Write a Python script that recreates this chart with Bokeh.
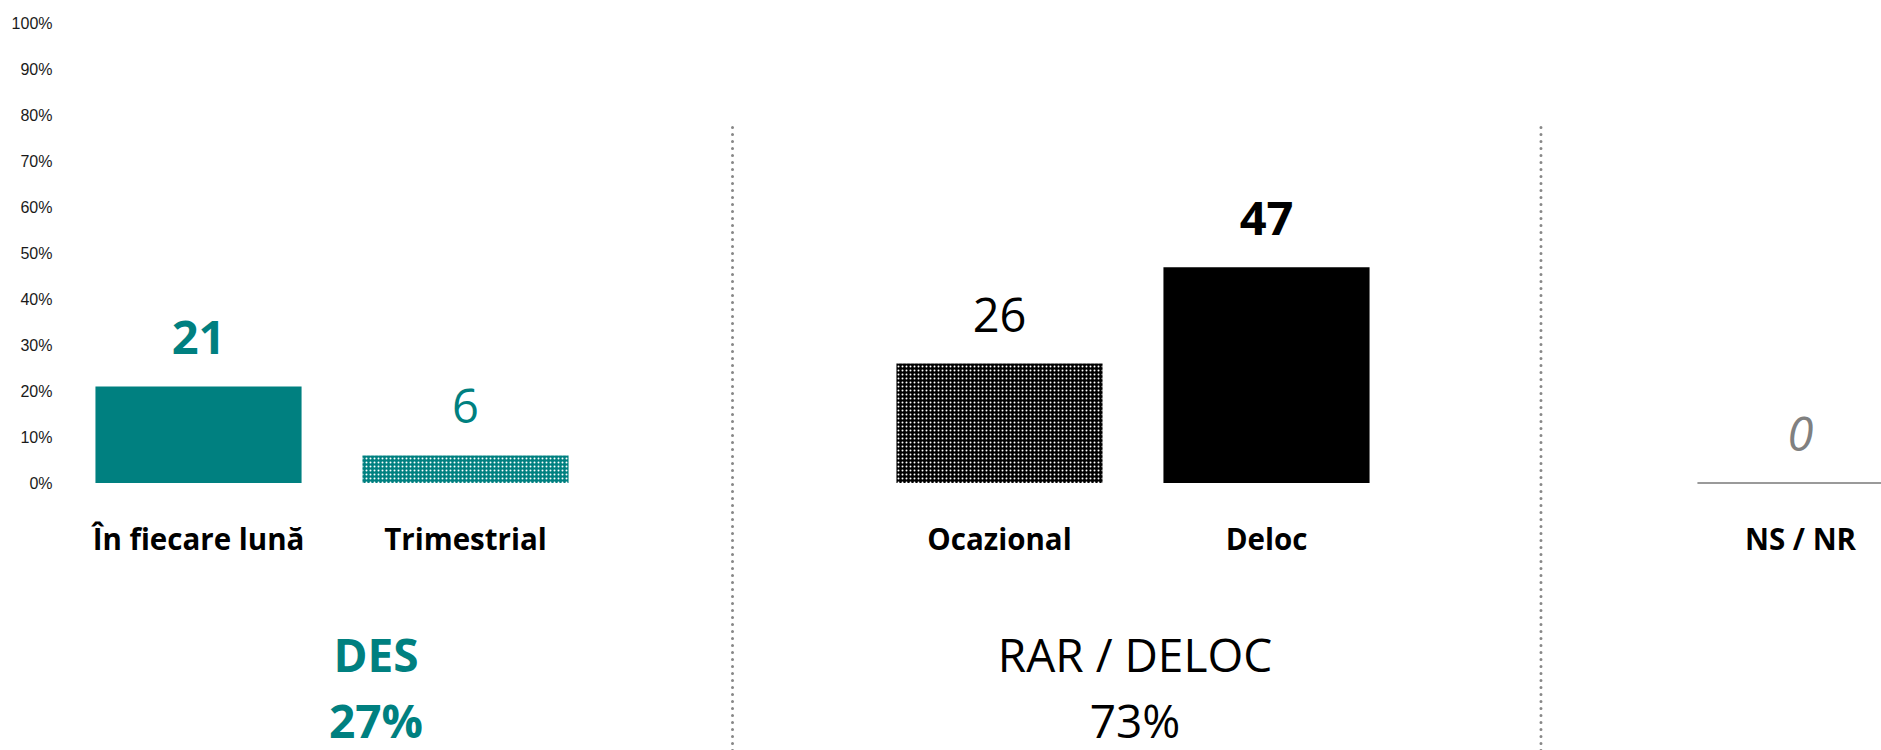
from bokeh.plotting import figure
from bokeh.models import Range1d, FixedTicker, PrintfTickFormatter, ColumnDataSource
from bokeh.core.properties import value
from bokeh.embed import file_html
from bokeh.resources import INLINE

# ---- data ----
categories = ["În fiecare lună", "Trimestrial", "Ocazional", "Deloc", "NS / NR"]
values = [21, 6, 26, 47, 0]
value_labels = ["21", "6", "26", "47", "0"]
group_names = ["DES", "RAR / DELOC"]
group_totals = ["27%", "73%"]
group_sizes = [2, 2, 1]
y_ticks = [0, 10, 20, 30, 40, 50, 60, 70, 80, 90, 100]

# ---- styles ----
TEAL = "#008080"
bar_fill = [TEAL, TEAL, "#000000", "#000000", "#ffffff"]
bar_hatch = ["blank", "dot", "dot", "blank", "blank"]
bar_line = [None, None, None, None, "#9a9a9a"]
label_color = [TEAL, TEAL, "#000000", "#000000", "#808080"]
label_style = ["bold", "normal", "normal", "bold", "italic"]
group_color = [TEAL, "#000000"]
group_style = ["bold", "normal"]
group_xoff = [44, 2]
sep_nudge = [0.0, 0.028]

# slot layout: one empty slot between groups
pos = []
gaps = []
s = 0
for gi, size in enumerate(group_sizes):
    for k in range(size):
        pos.append(s)
        s += 1
    if gi < len(group_sizes) - 1:
        gaps.append(s)
        s += 1
group_centers = []
i0 = 0
for size in group_sizes:
    group_centers.append(sum(pos[i0:i0 + size]) / size)
    i0 += size

W, H = 1881, 750
p = figure(width=W, height=H, output_backend="svg", toolbar_location=None,
           x_range=Range1d(-0.5169, 6.3034), y_range=Range1d(-58.24, 105.05),
           min_border_left=60, min_border_right=0, min_border_top=0, min_border_bottom=0,
           x_axis_location=None, background_fill_color="white", border_fill_color="white")
p.outline_line_color = None
p.grid.visible = False

yaxis = p.yaxis[0]
yaxis.ticker = FixedTicker(ticks=y_ticks)
yaxis.formatter = PrintfTickFormatter(format="%d%%")
yaxis.axis_line_color = None
yaxis.major_tick_line_color = None
yaxis.major_tick_out = 0
yaxis.major_tick_in = 0
yaxis.minor_tick_line_color = None
yaxis.minor_tick_out = 0
yaxis.major_label_standoff = 8
yaxis.major_label_text_font = "Liberation Sans"
yaxis.major_label_text_font_size = "16px"
yaxis.major_label_text_color = "#1a1a1a"

src = ColumnDataSource(dict(x=pos, top=values, cat=categories, lab=value_labels,
                            fill=bar_fill, hatch=bar_hatch, line=bar_line,
                            lcol=label_color, lsty=label_style))

p.vbar(x="x", top="top", bottom=0, width=0.772, source=src,
       fill_color="fill", line_color="line", line_width=2,
       hatch_pattern="hatch", hatch_color="white", hatch_scale=4, hatch_weight=1.2)

# separators
for g, nud in zip(gaps, sep_nudge):
    p.segment(x0=g + nud, y0=77.4, x1=g + nud, y1=-60, line_color="#888888", line_width=3,
              line_dash="0 7", line_cap="round")

# value labels
p.text(x="x", y="top", text="lab", source=src, text_align="center",
       text_baseline="alphabetic", y_offset=-49, text_font=value("Open Sans"),
       text_font_size="47px", text_color="lcol", text_font_style="lsty")

# category labels
p.text(x="x", y=0, text="cat", source=src, text_align="center",
       text_baseline="alphabetic", y_offset=55, text_font=value("Open Sans"),
       text_font_size="29.5px", text_color="#000000", text_font_style="bold")

# group labels
gsrc = ColumnDataSource(dict(x=group_centers[:len(group_names)], name=group_names,
                             total=group_totals, col=group_color, sty=group_style,
                             xo=group_xoff))
p.text(x="x", y=0, text="name", source=gsrc, text_align="center",
       text_baseline="alphabetic", y_offset=171, x_offset="xo", text_font=value("Open Sans"),
       text_font_size="46px", text_color="col", text_font_style="sty")
p.text(x="x", y=0, text="total", source=gsrc, text_align="center",
       text_baseline="alphabetic", y_offset=237, x_offset="xo", text_font=value("Open Sans"),
       text_font_size="46px", text_color="col", text_font_style="sty")

open("out.html", "w").write(file_html(p, INLINE))
